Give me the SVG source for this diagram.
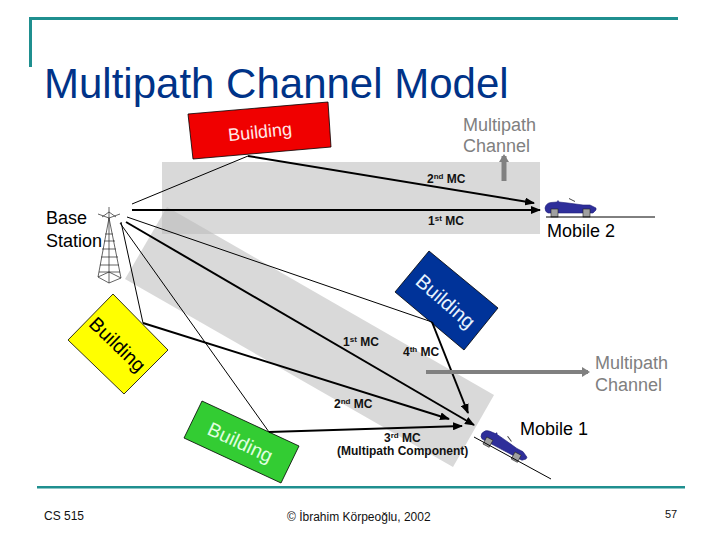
<svg xmlns="http://www.w3.org/2000/svg" xmlns:xlink="http://www.w3.org/1999/xlink" width="720" height="540" viewBox="0 0 720 540">
<style>
text{font-family:"Liberation Sans",Arial,sans-serif}
.mc{font-size:12px;font-weight:bold;fill:#111}
.lab{font-size:18px;fill:#000}
.gr{font-size:18px;fill:#808080}
.bld{text-anchor:middle}
.thin{stroke:#000;stroke-width:1;fill:none}
.thick{stroke:#000;stroke-width:2;fill:none}
.arr{marker-end:url(#ah)}
.rule{fill:#1f8f8f}
.foot{font-size:12px;fill:#111}
.bedge{stroke:#000;stroke-width:.8}
</style>
<defs>
<marker id="ah" markerUnits="userSpaceOnUse" markerWidth="10" markerHeight="8" refX="9" refY="4" orient="auto"><path d="M0 0L10 4L0 8Z" fill="#000"/></marker>
<marker id="gh" markerUnits="userSpaceOnUse" markerWidth="8" markerHeight="10" refX="6" refY="5" orient="auto"><path d="M0 0L8 5L0 10Z" fill="#808080"/></marker>
<g id="car">
<path d="M545 208Q546 203 551 202.5L557 202L558 200.5L559 202L568 203L583 205L590 205L596 208L596 210L593 213L548 213Q545 212 545 208Z" fill="#2e2e9a" stroke="#20207a" stroke-width=".6"/>
<path d="M569 198.5L575 201.5" stroke="#333" stroke-width=".9" fill="none"/>
<rect x="551" y="209" width="7" height="8" fill="#a0a0a0" stroke="#222" stroke-width=".6"/>
<rect x="583" y="209" width="7" height="8" fill="#a0a0a0" stroke="#222" stroke-width=".6"/>
</g>
</defs>
<rect width="720" height="540" fill="#fff"/>
<g id="frame">
<rect class="rule" x="29" y="17" width="649" height="3"/>
<rect class="rule" x="29" y="17" width="3" height="50"/>
<rect class="rule" x="37" y="486" width="648" height="2.5"/>
</g>
<text x="44" y="98" font-size="42" fill="#003388">Multipath Channel Model</text>
<g id="channels">
<rect x="162" y="162" width="378" height="72" fill="#d9d9d9"/>
<polygon points="167,207 494,395 453,467 125,279" fill="#d9d9d9"/>
<polygon points="167,207 214,234 162,234 162,215.6" fill="#c8c8c8"/>
</g>
<g id="building-red"><polygon class="bedge" points="188,114 328,102 331,147 193,159" fill="#f00000"/><text class="bld" x="260" y="138" fill="#ffe8e8" transform="rotate(-6 260 132)" font-size="18">Building</text></g>
<g id="building-yellow"><polygon class="bedge" points="113,294 168,350 124,394 68,340" fill="#ffff00"/><text class="bld" x="117" y="351" fill="#000" transform="rotate(44 117 345)" font-size="19.5">Building</text></g>
<g id="building-green"><polygon class="bedge" points="202,401 299,446 281,483 184,438" fill="#33cc33"/><text class="bld" x="240" y="449" fill="#e0ffe0" transform="rotate(25 240 443)" font-size="19.5">Building</text></g>
<g id="building-blue"><polygon class="bedge" points="429,251 498,308 464,350 395,292" fill="#003399"/><text class="bld" x="445" y="308" fill="#e8f4ff" transform="rotate(41 445 302)" font-size="20">Building</text></g>
<g id="connectors">
<path class="thin" d="M132 204L248 156"/>
<path class="thick arr" d="M248 156L534 203"/>
<path class="thick arr" d="M132 210L540 210"/>
<path class="thin" d="M127 217L432 322"/>
<path class="thick arr" d="M432 322L468 413"/>
<path class="thick arr" d="M126 222L474 425"/>
<path class="thin" d="M121 222L143 323"/>
<path class="thick arr" d="M143 323L449 419"/>
<path class="thin" d="M120 223L269 432"/>
<path class="thick arr" d="M269 432L462 426"/>
<path d="M504 181L504 156" stroke="#808080" stroke-width="5" fill="none" marker-end="url(#gh)"/>
<path d="M426 372L588 372" stroke="#808080" stroke-width="4" fill="none" marker-end="url(#gh)"/>
</g>
<g id="base-station">
<g fill="none" stroke="#222" stroke-width=".7">
<path d="M109 218L98 277L109 283L121 278Z"/>
<path d="M109 218V283M105 234H113M104 241H115M102 249H116M101 257H118M100 265H119M99 272H120M98 277L109 272L121 278M109 207V218M98 214L109 218L120 214M102 217L109 212L116 217"/>
</g>
<text class="lab" x="46" y="224">Base</text>
<text class="lab" x="46" y="247">Station</text>
</g>
<g id="mobile-2">
<use xlink:href="#car" href="#car"/>
<path class="thin" d="M546 217H655"/>
<text class="lab" x="547" y="237">Mobile 2</text>
</g>
<g id="mobile-1">
<use xlink:href="#car" href="#car" transform="translate(503 449) rotate(28) translate(-571 -212)"/>
<path class="thin" d="M474 437L551 479"/>
<text class="lab" x="520" y="435">Mobile 1</text>
</g>
<g id="labels">
<text class="gr" x="463" y="131">Multipath</text>
<text class="gr" x="463" y="152">Channel</text>
<text class="gr" x="595" y="369">Multipath</text>
<text class="gr" x="595" y="391">Channel</text>
<text class="mc" x="427" y="183">2<tspan font-size="8" dy="-4">nd</tspan><tspan dy="4"> MC</tspan></text>
<text class="mc" x="428" y="225">1<tspan font-size="8" dy="-4">st</tspan><tspan dy="4"> MC</tspan></text>
<text class="mc" x="343" y="346">1<tspan font-size="8" dy="-4">st</tspan><tspan dy="4"> MC</tspan></text>
<text class="mc" x="403" y="356">4<tspan font-size="8" dy="-4">th</tspan><tspan dy="4"> MC</tspan></text>
<text class="mc" x="334" y="408">2<tspan font-size="8" dy="-4">nd</tspan><tspan dy="4"> MC</tspan></text>
<text class="mc" x="384" y="442">3<tspan font-size="8" dy="-4">rd</tspan><tspan dy="4"> MC</tspan></text>
<text class="mc" x="337" y="455">(Multipath Component)</text>
</g>
<g id="footer">
<text class="foot" x="44" y="520">CS 515</text>
<text class="foot" x="287" y="521">© İbrahim Körpeoğlu, 2002</text>
<text class="foot" x="665" y="518" style="font-size:11px">57</text>
</g>
</svg>
